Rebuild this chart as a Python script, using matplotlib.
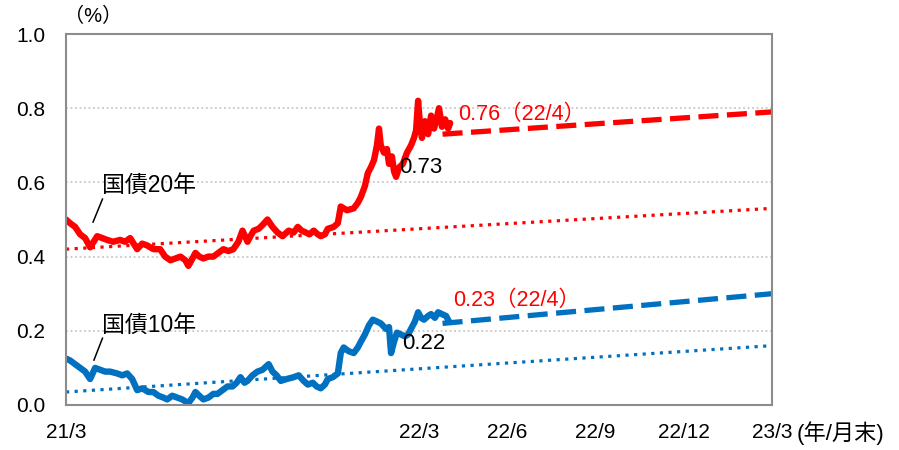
import matplotlib
matplotlib.use("Agg")
import matplotlib.pyplot as plt

plt.rcParams['font.family'] = ['Liberation Sans', 'Noto Sans CJK JP', 'DejaVu Sans']

# x = months since 2021/3 end
jgb20_months = [0.00, 0.14, 0.31, 0.48, 0.65, 0.82, 1.06, 1.23, 1.40, 1.60, 1.84, 2.01, 2.18, 2.42,
                2.59, 2.76, 2.97, 3.20, 3.37, 3.55, 3.72, 3.89, 4.06, 4.16, 4.30, 4.40, 4.53, 4.67,
                4.84, 5.01, 5.18, 5.35, 5.52, 5.69, 5.86, 6.00, 6.17, 6.27, 6.38, 6.55, 6.68, 6.85,
                7.02, 7.19, 7.36, 7.57, 7.74, 7.88, 8.01, 8.15, 8.28, 8.42, 8.56, 8.66, 8.80, 8.90,
                9.10, 9.24, 9.34, 9.55, 9.78, 9.92, 10.02, 10.16, 10.26, 10.36, 10.47, 10.57, 10.64,
                10.70, 10.81, 10.91, 10.98, 11.08, 11.15, 11.22, 11.32, 11.45, 11.59, 11.73, 11.83,
                11.90, 11.97, 12.03, 12.10, 12.20, 12.31, 12.41, 12.51, 12.61, 12.68, 12.78, 12.89,
                12.99, 13.06]
jgb20_yield = [0.50, 0.49, 0.48, 0.46, 0.45, 0.425, 0.455, 0.45, 0.445, 0.44, 0.445, 0.44, 0.45, 0.42,
               0.435, 0.43, 0.42, 0.42, 0.40, 0.39, 0.395, 0.40, 0.39, 0.375, 0.395, 0.41, 0.40, 0.395,
               0.40, 0.40, 0.41, 0.42, 0.415, 0.42, 0.44, 0.47, 0.44, 0.455, 0.47, 0.475, 0.485, 0.50,
               0.48, 0.465, 0.455, 0.47, 0.465, 0.48, 0.47, 0.465, 0.46, 0.47, 0.46, 0.455, 0.46, 0.475,
               0.48, 0.49, 0.535, 0.525, 0.53, 0.545, 0.56, 0.59, 0.625, 0.64, 0.66, 0.70, 0.745,
               0.70, 0.68, 0.69, 0.65, 0.67, 0.63, 0.615, 0.64, 0.65, 0.68, 0.70, 0.72,
               0.74, 0.82, 0.76, 0.72, 0.765, 0.73, 0.78, 0.745, 0.775, 0.80, 0.75, 0.77,
               0.745, 0.76]

jgb10_months = [0.00, 0.14, 0.31, 0.48, 0.65, 0.82, 0.99, 1.16, 1.33, 1.50, 1.74, 1.91, 2.08, 2.25,
                2.42, 2.59, 2.80, 2.97, 3.14, 3.31, 3.44, 3.61, 3.78, 3.95, 4.16, 4.30, 4.40, 4.53,
                4.67, 4.84, 5.01, 5.15, 5.32, 5.49, 5.66, 5.80, 5.93, 6.07, 6.17, 6.34, 6.51, 6.68,
                6.89, 7.02, 7.16, 7.30, 7.50, 7.74, 7.91, 8.08, 8.22, 8.39, 8.52, 8.66, 8.80, 8.90,
                9.07, 9.24, 9.34, 9.44, 9.61, 9.78, 9.92, 10.02, 10.16, 10.30, 10.43, 10.57, 10.70,
                10.88, 10.98, 11.05, 11.15, 11.25, 11.39, 11.52, 11.63, 11.76, 11.86, 11.97, 12.07,
                12.17, 12.31, 12.41, 12.54, 12.65, 12.78, 12.92, 13.02]
jgb10_yield = [0.125, 0.12, 0.11, 0.10, 0.09, 0.07, 0.10, 0.095, 0.09, 0.09, 0.085, 0.08, 0.085, 0.07,
               0.04, 0.045, 0.035, 0.035, 0.025, 0.02, 0.015, 0.025, 0.02, 0.015, 0.005, 0.02, 0.035, 0.025,
               0.015, 0.02, 0.03, 0.03, 0.04, 0.05, 0.05, 0.06, 0.075, 0.06, 0.065, 0.08, 0.09, 0.095,
               0.11, 0.09, 0.08, 0.065, 0.07, 0.075, 0.08, 0.065, 0.055, 0.06, 0.05, 0.045, 0.055, 0.07,
               0.075, 0.085, 0.14, 0.155, 0.145, 0.14, 0.155, 0.17, 0.19, 0.215, 0.23, 0.225, 0.22,
               0.205, 0.21, 0.14, 0.17, 0.195, 0.19, 0.185, 0.19, 0.21, 0.225, 0.25, 0.235,
               0.23, 0.24, 0.245, 0.235, 0.25, 0.245, 0.24, 0.225]

# forward rates (dashed) and linear trends (dotted)
fwd_months = [12.8, 24]
jgb20_fwd = [0.73, 0.79]
jgb10_fwd = [0.22, 0.30]
trend_months = [0, 24]
jgb20_trend = [0.42, 0.53]
jgb10_trend = [0.035, 0.16]

xtick_pos = [0, 12, 15, 18, 21, 24]
xtick_labels = ["21/3", "22/3", "22/6", "22/9", "22/12", "23/3"]

red = "#FF0000"
blue = "#0070C0"


def main():
	fig = plt.figure(figsize=(8.99, 4.5), dpi=100)
	ax = fig.add_axes([66 / 899, 45 / 450, 706 / 899, 371 / 450])

	# gridlines
	for y in [0.2, 0.4, 0.6, 0.8]:
		ax.axhline(y, color="#c8c8c8", lw=1.3, linestyle=(0, (1, 1.5)), zorder=0)

	# trends
	ax.plot(trend_months, jgb20_trend, color=red, lw=2.3, linestyle=(0, (1, 1.7)))
	ax.plot(trend_months, jgb10_trend, color=blue, lw=2.3, linestyle=(0, (1, 1.7)))

	# actual yields
	ax.plot(jgb20_months, jgb20_yield, color=red, lw=4.6, solid_joinstyle="round", solid_capstyle="round")
	ax.plot(jgb10_months, jgb10_yield, color=blue, lw=4.6, solid_joinstyle="round", solid_capstyle="round")

	# forward
	ax.plot(fwd_months, jgb20_fwd, color=red, lw=3.8, linestyle=(0, (3.8, 1.6)))
	ax.plot(fwd_months, jgb10_fwd, color=blue, lw=3.8, linestyle=(0, (3.8, 1.6)))

	ax.set_xlim(0, 24)
	ax.set_ylim(0, 1.0)
	ax.set_yticks([0, 0.2, 0.4, 0.6, 0.8, 1.0])
	ax.set_yticklabels(["%.1f" % v for v in [0, 0.2, 0.4, 0.6, 0.8, 1.0]])
	ax.set_xticks(xtick_pos)
	ax.set_xticklabels(xtick_labels)
	ax.tick_params(axis="y", length=0, pad=15, labelsize=15)
	ax.tick_params(axis="x", length=0, pad=13, labelsize=15)
	for s in ax.spines.values():
		s.set_color("#8c8c8c")
		s.set_linewidth(1.5)

	# labels
	ax.text(1.23, 0.593, "国債20年", fontsize=16.5, ha="left", va="center")
	ax.plot([0.92, 1.24], [0.493, 0.555], color="black", lw=1.1)
	ax.text(1.23, 0.216, "国債10年", fontsize=16.5, ha="left", va="center")
	ax.plot([0.95, 1.24], [0.121, 0.18], color="black", lw=1.1)

	ax.text(11.32, 0.641, "0.73", fontsize=16, ha="left", va="center")
	ax.text(13.33, 0.783, "0.76（22/4）", fontsize=15.5, color=red, ha="left", va="center")
	ax.text(11.42, 0.167, "0.22", fontsize=16, ha="left", va="center")
	ax.text(13.16, 0.283, "0.23（22/4）", fontsize=15.5, color=red, ha="left", va="center")

	fig.text(64 / 899, 1 - 16 / 450, "（%）", fontsize=14.5, ha="left", va="center")
	fig.text(797 / 899, 1 - 433 / 450, "(年/月末)", fontsize=16, ha="left", va="center")

	fig.savefig("out.png", dpi=100)


if __name__ == "__main__":
	main()
